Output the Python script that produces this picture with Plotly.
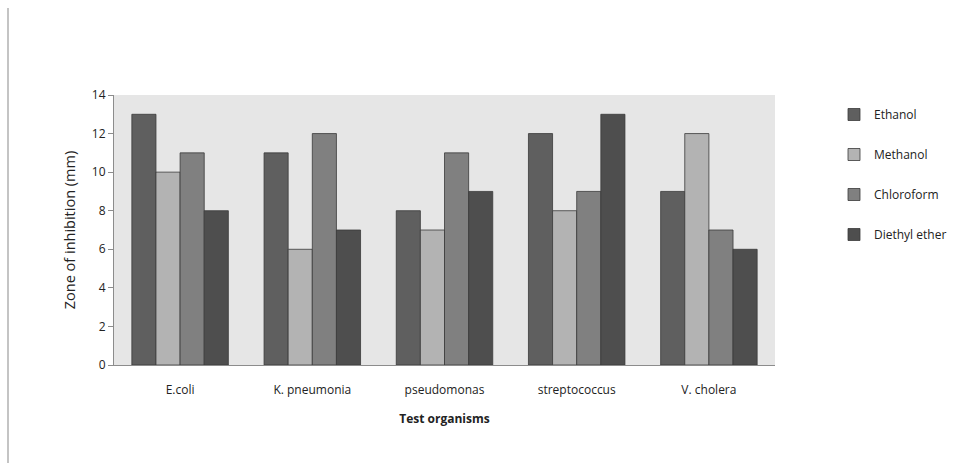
import plotly.graph_objects as go

organisms = ["E.coli", "K. pneumonia", "pseudomonas", "streptococcus", "V. cholera"]
ethanol = [13, 11, 8, 12, 9]
methanol = [10, 6, 7, 8, 12]
chloroform = [11, 12, 11, 9, 7]
diethyl_ether = [8, 7, 9, 13, 6]

series = [
    ("Ethanol", ethanol, "#5f5f5f"),
    ("Methanol", methanol, "#b3b3b3"),
    ("Chloroform", chloroform, "#808080"),
    ("Diethyl ether", diethyl_ether, "#4e4e4e"),
]

FONT = "Open Sans"
W, H = 978, 463
L, R, T, B = 114, 203, 95, 98
pw = W - L - R
ph = H - T - B

fig = go.Figure()
for i, (name, vals, col) in enumerate(series):
    fig.add_trace(go.Bar(
        x=organisms, y=vals, name=name, legendgroup=f"g{i}",
        marker=dict(color=col, line=dict(color="#3a3a3a", width=0.8)),
    ))

fig.update_layout(
    width=W, height=H,
    margin=dict(l=L, r=R, t=T, b=B),
    paper_bgcolor="white",
    plot_bgcolor="#e6e6e6",
    barmode="group",
    bargap=0.27,
    bargroupgap=0,
    font=dict(family=FONT, size=12, color="#222222"),
    legend=dict(
        x=(834 - L) / pw, y=1 - 5 / ph, xanchor="left", yanchor="top",
        font=dict(family=FONT, size=12, color="#222222"),
        tracegroupgap=21, itemwidth=30,
    ),
    xaxis=dict(
        showgrid=False, showline=True, linecolor="#8c8c8c", linewidth=1,
        ticks="", ticklabelstandoff=14, tickfont=dict(size=12),
        title=dict(text="<b>Test organisms</b>", font=dict(size=12), standoff=17),
    ),
    yaxis=dict(
        range=[0, 14], dtick=2, showgrid=False, zeroline=False,
        showline=True, linecolor="#8c8c8c", linewidth=1,
        ticks="outside", ticklen=5, tickcolor="#8c8c8c",
        tickfont=dict(size=12),
        title=dict(text="Zone of inhibition (mm)", font=dict(size=14.5), standoff=12),
    ),
)

# thin grey rule down the left side of the page
fig.add_shape(
    type="line", xref="paper", yref="paper",
    x0=(8 - L) / pw, x1=(8 - L) / pw,
    y0=-B / ph, y1=1 + (T - 8) / ph,
    line=dict(color="#b0b0b0", width=1.5),
)

fig.write_html("out.html")
